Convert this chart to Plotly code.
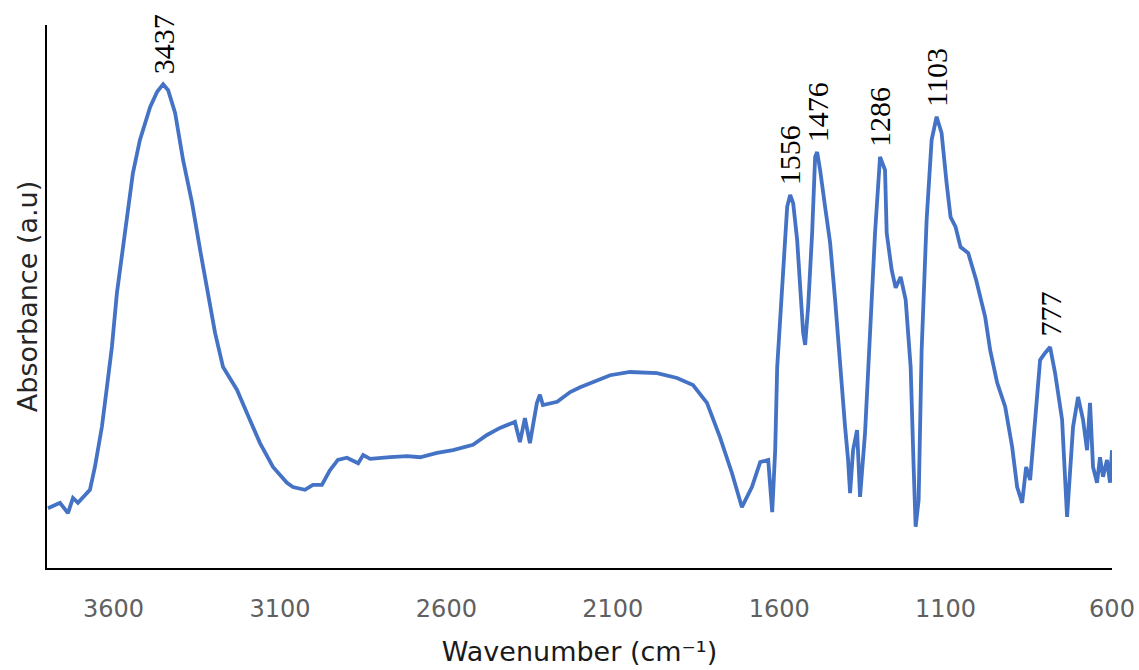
import plotly.graph_objects as go

wavenumber = [3797, 3761, 3737, 3722, 3707, 3686, 3671, 3656, 3635, 3620, 3605, 3590, 3575, 3557, 3542,
              3521, 3490, 3469, 3451, 3436, 3415, 3391, 3364, 3340, 3316, 3295, 3271, 3229, 3199, 3160,
              3121, 3079, 3061, 3025, 3001, 2974, 2950, 2926, 2899, 2865, 2850, 2829, 2769, 2718, 2679,
              2628, 2580, 2520, 2478, 2439, 2394, 2379, 2364, 2349, 2328, 2319, 2310, 2267, 2228, 2198,
              2108, 2048, 1967, 1907, 1859, 1817, 1778, 1742, 1712, 1682, 1657, 1633, 1621, 1612, 1606,
              1588, 1576, 1567, 1558, 1546, 1537, 1528, 1522, 1513, 1501, 1492, 1486, 1477, 1462, 1447,
              1432, 1417, 1402, 1393, 1387, 1378, 1366, 1357, 1342, 1327, 1312, 1297, 1282, 1277, 1262,
              1250, 1235, 1220, 1205, 1196, 1190, 1181, 1172, 1157, 1142, 1127, 1112, 1097, 1085, 1070,
              1055, 1032, 1008, 981, 966, 945, 921, 900, 885, 870, 858, 846, 831, 816, 801,
              786, 771, 750, 735, 726, 717, 702, 687, 675, 666, 657, 645, 636, 627, 615,
              606, 600]
absorbance = [11.0, 12.0, 10.1, 12.9, 12.0, 13.4, 14.4, 18.6, 26.0, 33.3, 40.7, 50.6, 57.3, 65.4, 72.7,
              78.8, 84.9, 87.7, 89.1, 88.0, 83.8, 75.1, 67.2, 58.6, 50.6, 43.3, 37.0, 32.8, 28.5, 23.0,
              18.6, 15.7, 14.9, 14.4, 15.3, 15.3, 18.0, 19.9, 20.3, 19.3, 20.8, 20.1, 20.4, 20.6, 20.4,
              21.2, 21.7, 22.7, 24.5, 25.8, 26.9, 23.2, 27.6, 23.0, 30.4, 31.9, 30.0, 30.6, 32.4, 33.3,
              35.5, 36.1, 35.9, 35.0, 33.7, 30.4, 24.1, 17.5, 11.2, 14.9, 19.5, 19.9, 10.3, 21.7, 37.0,
              55.4, 66.5, 68.7, 67.2, 60.4, 51.7, 43.3, 41.1, 48.1, 61.7, 75.7, 76.6, 73.3, 66.5, 59.9,
              49.4, 37.0, 26.0, 19.9, 13.8, 21.7, 25.4, 13.1, 24.9, 43.3, 61.7, 75.7, 73.3, 61.7, 54.9,
              51.6, 53.6, 49.4, 37.0, 18.6, 7.6, 12.5, 40.1, 64.1, 78.8, 83.1, 80.1, 70.9, 64.6, 62.8,
              59.1, 58.0, 53.0, 46.2, 40.1, 34.1, 29.7, 22.3, 14.9, 12.0, 18.6, 16.2, 27.8, 38.3, 39.6,
              40.7, 35.9, 27.3, 9.4, 18.6, 26.0, 31.5, 27.3, 21.7, 30.4, 18.6, 15.7, 20.4, 16.8, 19.9,
              15.7, 21.7]

peak_labels = ["3437", "1556", "1476", "1286", "1103", "777"]
x_ticks = [3600, 3100, 2600, 2100, 1600, 1100, 600]

fig = go.Figure()
fig.add_trace(go.Scatter(x=wavenumber, y=absorbance, mode="lines",
                         line=dict(color="#4472C4", width=3.8), showlegend=False))

for lab in peak_labels:
    v = int(lab)
    cand = [(a, w) for w, a in zip(wavenumber, absorbance) if abs(w - v) <= 30]
    a_pk, w_pk = max(cand)
    fig.add_annotation(x=w_pk, y=a_pk, text=lab, showarrow=False, textangle=-90,
                       xanchor="center", yanchor="bottom", yshift=8,
                       font=dict(family="Liberation Serif, Times New Roman, serif", size=30, color="#000000"))

fig.update_layout(
    width=1139, height=670,
    margin=dict(l=47, r=27, t=25, b=102),
    paper_bgcolor="white", plot_bgcolor="white",
    xaxis=dict(range=[3800, 600], tickvals=x_ticks, ticktext=[str(t) for t in x_ticks],
               automargin=False,
               showgrid=False, zeroline=False, showline=True, linecolor="black", linewidth=2,
               ticks="", ticklabelstandoff=18,
               tickfont=dict(family="DejaVu Sans", size=24, color="#606060"),
               title=dict(text="Wavenumber (cm\u207b\u00b9)", standoff=20,
                          font=dict(family="DejaVu Sans", size=27, color="#1a1a1a"))),
    yaxis=dict(range=[0, 100], showticklabels=False, showgrid=False, zeroline=False,
               automargin=False,
               showline=True, linecolor="black", linewidth=2, ticks="",
               title=dict(text="Absorbance (a.u)", standoff=0,
                          font=dict(family="DejaVu Sans", size=27, color="#262626"))),
)

fig.write_html("out.html")
